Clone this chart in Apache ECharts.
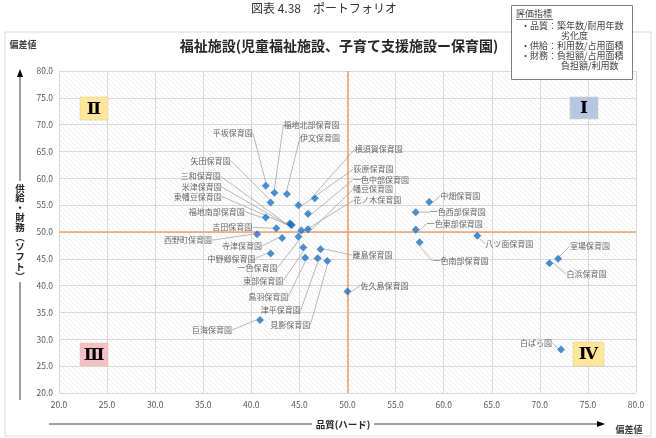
<!DOCTYPE html>
<html><head><meta charset="utf-8">
<script src="https://cdn.jsdelivr.net/npm/echarts@6/dist/echarts.min.js"></script>
<style>html,body{margin:0;padding:0;background:#fff}#c{width:656px;height:438px}</style>
</head><body><div id="c"></div>
<script>
// ---- data ----
const facilities = ['平坂保育園','福地北部保育園','伊文保育園','矢田保育園','横須賀保育園','荻原保育園','一色中部保育園','三和保育園','米津保育園','東幡豆保育園','福地南部保育園','吉田保育園','幡豆保育園','花ノ木保育園','西野町保育園','寺津保育園','一色保育園','東部保育園','離島保育園','中野郷保育園','鳥羽保育園','津平保育園','見影保育園','巨海保育園','佐久島保育園','中畑保育園','一色西部保育園','一色東部保育園','一色南部保育園','八ツ面保育園','室場保育園','白浜保育園','白ばら園'];
const qualityScore = [41.5,42.4,43.7,42.0,46.6,44.9,45.9,44.0,44.2,44.1,41.5,42.6,45.9,45.2,40.6,43.2,44.9,45.4,47.2,42.0,45.6,46.9,47.9,40.9,50.0,58.5,57.1,57.1,57.5,63.5,71.9,71.0,72.2];
const supplyScore  = [58.6,57.3,57.1,55.5,56.3,55.0,53.4,51.6,51.3,51.4,52.7,50.7,50.5,50.3,49.6,48.9,49.1,47.1,46.8,46.0,45.2,45.1,44.6,33.6,38.9,55.6,53.7,50.4,48.1,49.3,45.0,44.2,28.1];
const xAxisTicks = [20,25,30,35,40,45,50,55,60,65,70,75,80];
const yAxisTicks = [20,25,30,35,40,45,50,55,60,65,70,75,80];
const averageLine = 50;

// ---- label layout (styling only: pixel offsets of each label from its point) ----
const labelOffsets = [[-13,-53,'r'],[9,-68,'l'],[13,-56,'l'],[-40,-42,'r'],[40,-49,'l'],[55,-36,'l'],[45,-34,'l'],[-69,-47,'r'],[-70,-38,'r'],[-69,-28,'r'],[-21,-6,'r'],[-24,-1,'r'],[45,-40,'l'],[52,-30,'l'],[-45,6,'r'],[-20,8,'r'],[-21,31,'r'],[-20,33,'r'],[32,6,'l'],[-15,5,'r'],[-17,39,'r'],[-17,52,'r'],[-17,64,'r'],[-28,10,'r'],[13,-6,'l'],[11,-6,'l'],[14,0,'l'],[11,-6,'l'],[13,19,'l'],[8,8,'l'],[12,-13,'l'],[17,11,'l'],[-9,-7,'r']];

const FONT = '"Noto Sans CJK JP","Noto Sans",sans-serif';

// hatch pattern for plot background
const pc = document.createElement('canvas');
pc.width = 5; pc.height = 5;
const g = pc.getContext('2d');
g.fillStyle = '#ffffff'; g.fillRect(0,0,5,5);
g.strokeStyle = '#ececec'; g.lineWidth = 1;
g.beginPath();
for (const k of [-5,0,5]) { g.moveTo(k,0); g.lineTo(k+5,5); }
g.stroke();

const chart = echarts.init(document.getElementById('c'), null, {renderer:'canvas'});
const data = facilities.map((n,i)=>({name:n, value:[qualityScore[i], supplyScore[i]]}));

function quadBox(x,y,w,h,fill,txt){
  return [
    {type:'rect', shape:{x:x,y:y,width:w,height:h}, style:{fill:fill, stroke:'#d8c89a', lineWidth:0.5}, z:10},
    {type:'text', x:x+w/2, y:y+h/2+1, style:{text:txt, fill:'#000', font:'bold 17px "DejaVu Serif","Liberation Serif",serif', textAlign:'center', textVerticalAlign:'middle'}, z:11}
  ];
}

const option = {
  backgroundColor:'#fff',
  animation:false,
  grid:{left:59, right:20, top:71, bottom:45, show:true, backgroundColor:{image:pc, repeat:'repeat'}, borderWidth:0},
  xAxis:{type:'value', min:xAxisTicks[0], max:xAxisTicks[xAxisTicks.length-1], interval:xAxisTicks[1]-xAxisTicks[0],
    axisLine:{show:false}, axisTick:{show:false},
    axisLabel:{formatter:v=>v.toFixed(1), fontSize:8.5, color:'#595959', fontFamily:FONT, margin:8},
    splitLine:{lineStyle:{color:'#d9d9d9', width:1}}},
  yAxis:{type:'value', min:yAxisTicks[0], max:yAxisTicks[yAxisTicks.length-1], interval:yAxisTicks[1]-yAxisTicks[0],
    axisLine:{show:false}, axisTick:{show:false},
    axisLabel:{formatter:v=>v.toFixed(1), fontSize:8.5, color:'#595959', fontFamily:FONT, margin:6},
    splitLine:{lineStyle:{color:'#d9d9d9', width:1}}},
  series:[{
    type:'scatter', data:data, symbol:'diamond', symbolSize:8,
    itemStyle:{color:'#1f70c1'},
    label:{show:true, formatter:'{b}', fontSize:8, color:'#404040', fontFamily:FONT, position:'right'},
    labelLine:{show:true, lineStyle:{color:'#a6a6a6', width:0.8}},
    labelLayout:function(p){
      const o = labelOffsets[p.dataIndex];
      const cx = p.rect.x + p.rect.width/2, cy = p.rect.y + p.rect.height/2;
      return {x:cx+o[0], y:cy+o[1], align:o[2]==='r'?'right':'left', verticalAlign:'middle'};
    },
    emphasis:{disabled:true},
    markLine:{silent:true, symbol:'none', label:{show:false}, animation:false,
      lineStyle:{color:'#f2a070', width:1.6, type:'solid'},
      data:[{xAxis:averageLine},{yAxis:averageLine}]},
    z:5
  }],
  graphic:[
    // outer frame
    {type:'rect', shape:{x:5,y:32,width:646,height:404}, style:{fill:'none', stroke:'#d9d9d9', lineWidth:1}, z:-10},
    // caption
    {type:'text', x:324, y:8, style:{text:'図表 4.38　ポートフォリオ', fill:'#333', font:'12px "Noto Sans CJK JP",serif', textAlign:'center', textVerticalAlign:'middle'}},
    // chart title
    {type:'text', x:339, y:46, style:{text:'福祉施設(児童福祉施設、子育て支援施設ー保育園)', fill:'#262626', font:'bold 14px '+FONT, textAlign:'center', textVerticalAlign:'middle'}},
    // legend box
    {type:'rect', shape:{x:511.5,y:5.5,width:121,height:74}, style:{fill:'#fff', stroke:'#7f7f7f', lineWidth:1}, z:20},
    {type:'text', x:516, y:14, style:{text:'評価指標', fill:'#404040', font:'9px '+FONT, textVerticalAlign:'middle'}, z:21},
    {type:'line', shape:{x1:516,y1:19.5,x2:553,y2:19.5}, style:{stroke:'#404040', lineWidth:0.7}, z:21},
    {type:'text', x:521, y:26, style:{text:'・品質：築年数/耐用年数', fill:'#404040', font:'9px '+FONT, textVerticalAlign:'middle'}, z:21},
    {type:'text', x:561, y:36, style:{text:'劣化度', fill:'#404040', font:'9px '+FONT, textVerticalAlign:'middle'}, z:21},
    {type:'text', x:521, y:46, style:{text:'・供給：利用数/占用面積', fill:'#404040', font:'9px '+FONT, textVerticalAlign:'middle'}, z:21},
    {type:'text', x:521, y:56, style:{text:'・財務：負担額/占用面積', fill:'#404040', font:'9px '+FONT, textVerticalAlign:'middle'}, z:21},
    {type:'text', x:561, y:66, style:{text:'負担額/利用数', fill:'#404040', font:'9px '+FONT, textVerticalAlign:'middle'}, z:21},
    // quadrant labels
    ...quadBox(570,97,28,22,'#b4c7e7','Ⅰ'),
    ...quadBox(80,97,28,23,'#ffe699','Ⅱ'),
    ...quadBox(80,343,28,23,'#f4c0c8','Ⅲ'),
    ...quadBox(573,342,31,24,'#ffe699','Ⅳ'),
    // y-axis arrow and title
    {type:'text', x:23, y:45, style:{text:'偏差値', fill:'#404040', font:'bold 9px '+FONT, textAlign:'center', textVerticalAlign:'middle'}},
    {type:'line', shape:{x1:20,y1:76,x2:20,y2:181}, style:{stroke:'#404040', lineWidth:1}},
    {type:'polygon', shape:{points:[[20,69],[17,77],[23,77]]}, style:{fill:'#000'}},
    {type:'line', shape:{x1:20,y1:282,x2:20,y2:400}, style:{stroke:'#404040', lineWidth:1}},
    {type:'text', x:20, y:232, style:{text:'供\n給\n・\n財\n務\n︵\nソ\nフ\nト\n︶', fill:'#262626', font:'bold 9.5px '+FONT, textAlign:'center', textVerticalAlign:'middle', lineHeight:9.8}},
    // x-axis arrow and title
    {type:'line', shape:{x1:49,y1:424,x2:312,y2:424}, style:{stroke:'#404040', lineWidth:1}},
    {type:'text', x:343, y:424, style:{text:'品質(ハード)', fill:'#262626', font:'bold 9.5px '+FONT, textAlign:'center', textVerticalAlign:'middle'}},
    {type:'line', shape:{x1:374,y1:424,x2:598,y2:424}, style:{stroke:'#404040', lineWidth:1}},
    {type:'polygon', shape:{points:[[605,424],[597,421],[597,427]]}, style:{fill:'#000'}},
    {type:'text', x:629, y:430, style:{text:'偏差値', fill:'#404040', font:'bold 9px '+FONT, textAlign:'center', textVerticalAlign:'middle'}}
  ]
};
chart.setOption(option);
</script>
</body></html>
